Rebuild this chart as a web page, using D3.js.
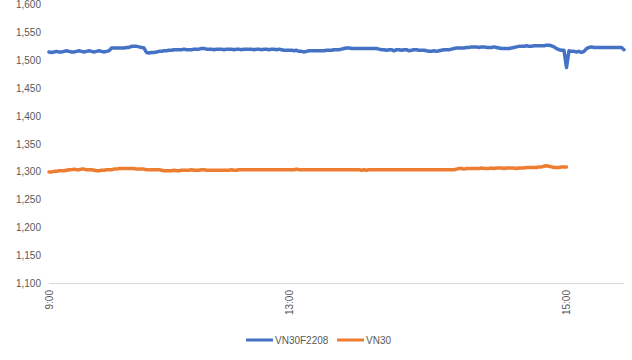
<!DOCTYPE html>
<html><head><meta charset="utf-8">
<script src="https://cdn.jsdelivr.net/npm/d3@7"></script>
<style>body{margin:0;background:#fff}svg{display:block}text{font-family:"Liberation Sans",Arial,sans-serif}</style>
</head><body><svg id="c" width="632" height="360"></svg>
<script>
const seriesNames = ["VN30F2208", "VN30"];
const seriesColors = ["#4472C4", "#ED7D31"];
const yTicks = [1100, 1150, 1200, 1250, 1300, 1350, 1400, 1450, 1500, 1550, 1600];
const xTickLabels = ["9:00", "13:00", "15:00"];
const xTickIndex = [0, 96, 207];
const categoryCount = 231;

const vn30f = [
1515,1514,1515,1516,1515,1515,1516,1517,1516,1515,
1515,1516,1517,1516,1515,1516,1517,1516,1515,1516,
1517,1516,1515,1516,1517,1522,1522,1522,1522,1522,
1522,1523,1523,1525,1525,1525,1524,1523,1522,1514,
1513,1514,1514,1515,1516,1516,1517,1517,1518,1518,
1519,1519,1519,1519,1520,1519,1519,1519,1520,1520,
1520,1521,1521,1520,1520,1520,1519,1520,1520,1520,
1519,1520,1520,1520,1519,1520,1520,1519,1520,1520,
1520,1520,1519,1520,1520,1519,1520,1520,1519,1520,
1520,1519,1520,1519,1518,1518,1518,1518,1517,1518,
1516,1516,1515,1516,1517,1517,1517,1517,1517,1517,
1517,1518,1518,1518,1519,1519,1519,1520,1521,1522,
1522,1521,1521,1521,1521,1521,1521,1521,1521,1521,
1521,1521,1520,1519,1519,1518,1519,1519,1517,1519,
1519,1518,1519,1519,1517,1518,1519,1519,1518,1518,
1518,1517,1516,1516,1517,1516,1517,1518,1519,1519,
1519,1520,1521,1522,1522,1522,1522,1523,1523,1524,
1524,1524,1523,1524,1524,1523,1523,1523,1524,1523,
1522,1521,1521,1521,1521,1522,1523,1524,1525,1525,
1525,1526,1525,1525,1526,1526,1526,1526,1526,1527,
1527,1526,1524,1521,1519,1518,1518,1487,1517,1516,
1516,1515,1516,1514,1516,1521,1523,1524,1523,1523,
1523,1523,1523,1523,1523,1523,1523,1523,1523,1523,
1519];

const vn30 = [
1300,1300,1301,1301,1302,1302,1302,1303,1304,1304,
1305,1304,1304,1305,1305,1304,1304,1304,1303,1302,
1302,1303,1303,1304,1304,1304,1305,1305,1306,1306,
1306,1306,1306,1306,1306,1305,1305,1305,1305,1304,
1304,1304,1304,1304,1304,1303,1302,1302,1302,1302,
1303,1302,1302,1303,1303,1303,1303,1304,1303,1303,
1303,1304,1304,1303,1303,1303,1303,1303,1303,1303,
1303,1303,1303,1304,1303,1303,1304,1304,1304,1304,
1304,1304,1304,1304,1304,1304,1304,1304,1304,1304,
1304,1304,1304,1304,1304,1304,1304,1304,1304,1305,
1304,1304,1304,1304,1304,1304,1304,1304,1304,1304,
1304,1304,1304,1304,1304,1304,1304,1304,1304,1304,
1304,1304,1304,1304,1304,1303,1304,1303,1304,1304,
1304,1304,1304,1304,1304,1304,1304,1304,1304,1304,
1304,1304,1304,1304,1304,1304,1304,1304,1304,1304,
1304,1304,1304,1304,1304,1304,1304,1304,1304,1304,
1304,1304,1304,1305,1306,1306,1305,1306,1306,1306,
1306,1306,1306,1307,1306,1306,1306,1307,1306,1307,
1307,1307,1306,1307,1307,1307,1307,1306,1307,1307,
1307,1308,1308,1308,1308,1308,1309,1309,1310,1311,
1310,1309,1308,1308,1308,1309,1309,1309];

const series = [vn30f, vn30];
const svg = d3.select("#c");
const x = d3.scaleLinear().domain([0, categoryCount - 1]).range([49, 624]);
const y = d3.scaleLinear().domain([1100, 1600]).range([283.5, 4.5]);
const fmt = d3.format(",");

svg.append("g").selectAll("text").data(yTicks).join("text")
  .attr("x", 41).attr("y", d => y(d)).attr("dy", "0.35em")
  .attr("text-anchor", "end").attr("font-size", 10).attr("fill", "#595959")
  .text(d => fmt(d));

svg.append("line").attr("x1", x(0)).attr("x2", x(categoryCount - 1))
  .attr("y1", y(1100)).attr("y2", y(1100)).attr("stroke", "#D9D9D9").attr("stroke-width", 1);

svg.append("g").selectAll("text").data(xTickLabels).join("text")
  .attr("transform", (d, i) => `translate(${x(xTickIndex[i]) + 3.5},290) rotate(-90)`)
  .attr("text-anchor", "end").attr("font-size", 10).attr("fill", "#595959")
  .text(d => d);

const line = d3.line().x((d, i) => x(i)).y(d => y(d)).curve(d3.curveLinear);
series.forEach((s, k) => {
  svg.append("path").datum(s).attr("d", line).attr("fill", "none")
    .attr("stroke", seriesColors[k]).attr("stroke-width", 3.5)
    .attr("stroke-linejoin", "round").attr("stroke-linecap", "round");
});

const legX = [246, 337];
seriesNames.forEach((n, k) => {
  svg.append("line").attr("x1", legX[k]).attr("x2", legX[k] + 27)
    .attr("y1", 340).attr("y2", 340).attr("stroke", seriesColors[k]).attr("stroke-width", 3);
  svg.append("text").attr("x", legX[k] + 29).attr("y", 340).attr("dy", "0.35em")
    .attr("font-size", 10).attr("fill", "#595959").text(n);
});
</script></body></html>
